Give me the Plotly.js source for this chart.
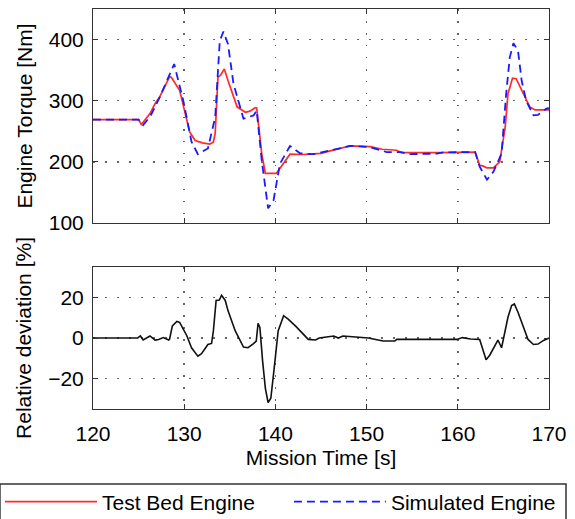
<!DOCTYPE html>
<html><head><meta charset="utf-8">
<script src="https://cdn.plot.ly/plotly-3.0.1.min.js"></script>
<style>html,body{margin:0;padding:0;background:#fff}#c{width:575px;height:519px}</style>
</head><body><div id="c"></div>
<script>
const bedTime = [120,125,125.3,126.25,126.8,127.3,128.4,128.6,129.5,130.6,131.2,132,132.8,133.2,133.4,133.7,134.0,134.4,134.8,135.8,136.7,137.2,137.8,137.95,138.5,138.9,140.1,141.6,143,145,146,148.2,150.4,151.7,153.3,153.8,158,161.9,162.4,162.8,163.2,163.9,164.6,165.2,165.5,166.0,166.4,167.0,167.9,168.5,170];
const bedTorque = [269,269,261,279,295,306,339.5,338,317,249,235,231,229,232,247,338,342,352,333,290,281,283,288.5,288,213.5,181,181,212.5,212,214,218,226,225,220.6,219,215,215,216,194.5,193,190,190,200,257,311,337,336,316.7,289.5,285,285];
const simTime = [120,125,125.5,126.3,127.3,128.4,128.9,129.9,130.8,131.5,132.6,133.4,133.9,134.3,134.8,135.4,136.5,137.6,137.95,138.5,139.2,139.8,140.5,141.6,142.7,144.2,146,148.2,150.4,152.2,153.8,154.6,157.7,158.4,161.9,162.4,163.2,163.9,164.8,165.3,165.7,166.1,166.6,167.0,167.5,168.3,168.8,169.7,170];
const simTorque = [269,269,260,275,305,345,360,300,233,212.5,222,273,398,413,393,328,270.6,276,284,202.6,124,137.5,197,226,214,212.5,219,226,224,216,216,212.5,213.5,215.5,216,192,171,183.6,213.5,311,371,394,382,333,300,276,277,287,288];
const devTime = [120,124.9,125.2,125.5,126.25,126.8,127.2,127.7,128.3,128.4,128.7,129.2,129.5,130.3,130.8,131.5,131.9,132.6,133.0,133.2,133.5,133.85,134.1,134.5,134.8,135.6,136.5,137.0,137.6,137.9,138.1,138.3,138.6,138.9,139.2,139.5,139.95,140.3,140.9,141.4,142.3,143.6,144.4,144.8,146.4,146.9,147.4,148.9,150.2,151.8,153.1,153.3,159.9,160.5,161.4,162.4,162.8,163.1,163.5,164.4,164.8,165.2,165.5,165.9,166.2,166.6,167.2,167.7,168.3,168.8,169.4,170];
const devValue = [0,0,1,-1,1,-1,-0.7,0.2,-1,-0.5,6,8.2,7.7,1,-4.8,-9,-7.7,-3.2,-2.7,3.5,18.5,18.7,21,18.5,13.5,3.5,-4.5,-4.8,-2.8,-1.5,7.2,5.2,-11.5,-24.8,-31.8,-29.7,-11.5,3.5,11,9.3,5.5,-0.7,-1,0,1,0,1,0.5,0,-1.5,-1.5,-0.7,-0.7,0.2,-0.5,-0.7,-6.5,-10.7,-8.5,-1,-4.8,3.5,10.2,16,16.8,12.7,5.2,-0.7,-3.2,-3,-1.2,0];
const xTicks = [120,130,140,150,160,170];
const torqueTicks = [100,200,300,400];
const devTicks = [-20,0,20];

const F = {family:'"Liberation Sans", Arial, sans-serif', size:21, color:'#000'};
const axBase = {showline:true, linecolor:'#333', linewidth:1, mirror:'ticks', ticks:'inside', ticklen:5, tickcolor:'#333',
  showgrid:true, gridcolor:'#666', griddash:'1.5px,10.5px', gridwidth:1.5, zeroline:false, tickfont:F};

const traces = [
  {x:bedTime, y:bedTorque, type:'scatter', mode:'lines', name:'Test Bed Engine', legend:'legend', line:{color:'#ff2a2a', width:1.7}, xaxis:'x', yaxis:'y'},
  {x:simTime, y:simTorque, type:'scatter', mode:'lines', name:'Simulated Engine', legend:'legend2', line:{color:'#1a1aff', width:1.8, dash:'8px,5px'}, xaxis:'x', yaxis:'y'},
  {x:devTime, y:devValue, type:'scatter', mode:'lines', showlegend:false, line:{color:'#111', width:1.6}, xaxis:'x2', yaxis:'y2'}
];
const legBase = {orientation:'h', yanchor:'middle', y:-0.2325, xanchor:'left', borderwidth:0, bgcolor:'rgba(0,0,0,0)', font:F, itemwidth:92};
const layout = {
  width:575, height:519, paper_bgcolor:'#fff', plot_bgcolor:'#fff',
  margin:{l:93, r:26, t:9, b:110, autoexpand:false},
  font:F,
  xaxis:Object.assign({}, axBase, {range:[120,170], tickvals:xTicks, showticklabels:false, anchor:'y', domain:[0,1]}),
  yaxis:Object.assign({}, axBase, {range:[100,450], tickvals:torqueTicks, domain:[0.465,1], anchor:'x', ticklabelstandoff:4, title:{text:'Engine Torque [Nm]', font:F, standoff:10}}),
  xaxis2:Object.assign({}, axBase, {range:[120,170], tickvals:xTicks, anchor:'y2', domain:[0,1], ticklabelstandoff:6, title:{text:'Mission Time [s]', font:F, standoff:6}}),
  yaxis2:Object.assign({}, axBase, {range:[-35,35], tickvals:devTicks, domain:[0,0.355], anchor:'x2', ticklabelstandoff:4, title:{text:'Relative deviation [%]', font:F, standoff:10}}),
  showlegend:true,
  legend:Object.assign({}, legBase, {x:-0.204}),
  legend2:Object.assign({}, legBase, {x:0.4297}),
  shapes:[{type:'rect', xref:'paper', yref:'paper', x0:-0.204, x1:1.0373, y0:-0.1875, y1:-0.34, line:{color:'#333', width:1.5}, fillcolor:'rgba(0,0,0,0)', layer:'below'}]
};
Plotly.newPlot('c', traces, layout, {staticPlot:true});
</script></body></html>
